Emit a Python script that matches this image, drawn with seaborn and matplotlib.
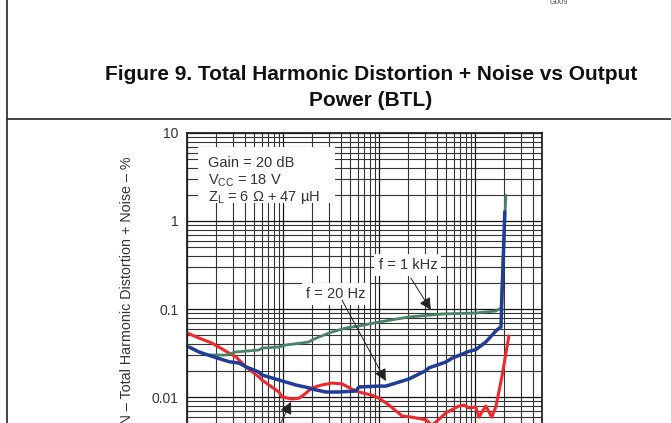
import matplotlib
matplotlib.use('Agg')
import matplotlib.pyplot as plt
import seaborn as sns
from matplotlib.lines import Line2D
from matplotlib.patches import Rectangle

# THD+N (%) vs output power (W)
po_20hz = [0.0105, 0.0133, 0.0182, 0.0274, 0.0348, 0.0412, 0.0562, 0.0604, 0.0908, 0.136,
           0.187, 0.200, 0.281, 0.383, 0.576, 0.619, 1.0, 1.18, 2.05, 3.09, 3.31, 4.99,
           5.75, 8.66, 10.2, 13.0, 16.9, 18.7, 20.5]
thd_20hz = [0.037, 0.0325, 0.029, 0.0252, 0.0243, 0.022, 0.0192, 0.0178, 0.0156, 0.0137,
            0.0127, 0.0123, 0.0114, 0.0114, 0.0117, 0.0130, 0.0133, 0.0133, 0.0160, 0.020,
            0.0214, 0.025, 0.0275, 0.033, 0.0345, 0.0422, 0.0577, 0.0624, 1.27]

po_1khz = [0.017, 0.0255, 0.0324, 0.0562, 0.0604, 0.0908, 0.107, 0.187, 0.200, 0.301,
           0.324, 0.453, 0.523, 0.619, 1.0, 2.05, 4.53, 10.2, 16.5, 18.7, 21.0]
thd_1khz = [0.030, 0.030, 0.0325, 0.0342, 0.036, 0.037, 0.039, 0.0422, 0.0444, 0.0534,
            0.0548, 0.0608, 0.0624, 0.0641, 0.0711, 0.0811, 0.0877, 0.0901, 0.0949, 0.1026, 1.97]

po_6khz = [0.01, 0.0133, 0.0182, 0.0274, 0.0324, 0.0412, 0.0562, 0.0604, 0.0908, 0.0977,
           0.124, 0.147, 0.154, 0.174, 0.200, 0.255, 0.324, 0.412, 0.523, 0.619, 0.845,
           1.0, 1.27, 1.74, 2.21, 3.09, 3.55, 3.93, 4.99, 6.81, 7.68, 8.66, 10.2, 11.0,
           13.0, 15.0, 16.5, 19.1, 22.6]
thd_6khz = [0.0534, 0.0468, 0.041, 0.0316, 0.0285, 0.0219, 0.0169, 0.0156, 0.0114, 0.0100,
            0.0095, 0.0097, 0.0100, 0.0111, 0.0127, 0.0137, 0.0144, 0.0141, 0.0123, 0.0114,
            0.0105, 0.0097, 0.0081, 0.0061, 0.0059, 0.0055, 0.0048, 0.0052, 0.0066, 0.0079,
            0.0081, 0.0075, 0.0077, 0.0059, 0.0079, 0.0059, 0.0077, 0.0169, 0.0493]

y_ticks = [0.01, 0.1, 1, 10]
y_ticklabels = ['0.01', '0.1', '1', '10']

sns.set_style('white')
plt.rcParams['font.family'] = ['Liberation Sans', 'DejaVu Sans']
plt.rcParams['mathtext.fontset'] = 'custom'
plt.rcParams['mathtext.rm'] = 'Liberation Sans'

fig = plt.figure(figsize=(6.71, 4.23), dpi=100)
# the reference is a crop of a datasheet page: the plot runs past the bottom edge
ax = fig.add_axes([0.2787, -0.1466, 0.529, 0.8322])

ax.set_xscale('log')
ax.set_yscale('log')
ax.set_xlim(0.01, 50)
ax.set_ylim(0.001, 10)

ax.grid(True, which='major', color='#111111', lw=0.9)
ax.grid(True, which='minor', color='#333333', lw=0.8)
ax.set_axisbelow(True)
for s in ax.spines.values():
    s.set_color('#222222')
    s.set_linewidth(1.3)

ax.tick_params(which='both', length=0, pad=6, labelsize=10, colors='#333333')
ax.set_yticks(y_ticks)
ax.set_yticklabels(y_ticklabels)
ax.tick_params(axis='x', which='both', labelbottom=False)

sns.lineplot(x=po_6khz, y=thd_6khz, ax=ax, color='#f0282d', lw=2.2, estimator=None, sort=False)
sns.lineplot(x=po_1khz, y=thd_1khz, ax=ax, color='#4a8466', lw=2.0, estimator=None, sort=False)
sns.lineplot(x=po_20hz, y=thd_20hz, ax=ax, color='#1f3c98', lw=2.5, estimator=None, sort=False)

ax.set_ylabel('THD+N – Total Harmonic Distortion + Noise – %', fontsize=10.3, color='#333333', labelpad=13)

# conditions box
ax.add_patch(Rectangle((0.031, 0.801), 0.386, 0.159, transform=ax.transAxes,
                       facecolor='white', edgecolor='none', zorder=3))
cond = ['Gain = 20 dB', 'V$_{\\mathregular{CC}}$ = 18 V', 'Z$_{\\mathregular{L}}$ = 6 Ω + 47 µH']
for i, t in enumerate(cond):
    ax.text(0.058, 0.915 - i * 0.049, t, transform=ax.transAxes, fontsize=10.5,
            color='#333333', va='center', ha='left', zorder=4)

box = dict(facecolor='white', edgecolor='none', pad=3)
ax.text(2.0, 0.316, 'f = 1 kHz', fontsize=10.5, color='#333333', ha='center', va='center', bbox=box, zorder=4)
ax.text(0.356, 0.148, 'f = 20 Hz', fontsize=10.5, color='#333333', ha='center', va='center', bbox=box, zorder=4)

arr = dict(arrowstyle='-|>', color='#222222', lw=0.7, mutation_scale=18, shrinkA=0, shrinkB=0)
ax.annotate('', xy=(3.48, 0.0975), xytext=(2.15, 0.225), arrowprops=arr, zorder=5)
ax.annotate('', xy=(1.18, 0.0152), xytext=(0.412, 0.126), arrowprops=arr, zorder=5)
ax.annotate('', xy=(0.121, 0.0088), xytext=(0.0845, 0.0039), arrowprops=arr, zorder=5)

# page furniture
fig.add_artist(Line2D([7 / 671, 7 / 671], [0, 1], color='#222222', lw=1.2))
fig.add_artist(Line2D([7 / 671, 1], [1 - 119 / 423, 1 - 119 / 423], color='#222222', lw=1.2))
fig.text(559 / 671, 1 - 3 / 423, 'G009', fontsize=5.5, color='#555555', ha='center', va='center')
fig.text(371 / 671, 1 - 75 / 423, 'Figure 9. Total Harmonic Distortion + Noise vs Output',
         fontsize=15, fontweight='bold', color='#111111', ha='center', va='center')
fig.text(371 / 671, 1 - 101 / 423, 'Power (BTL)',
         fontsize=15, fontweight='bold', color='#111111', ha='center', va='center')

fig.savefig('out.png', dpi=100)
